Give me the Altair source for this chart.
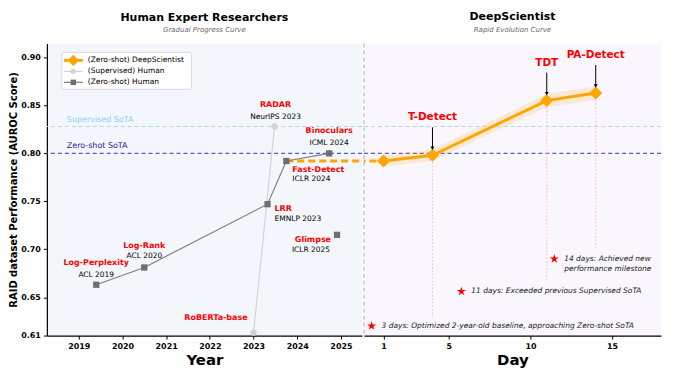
import altair as alt
import pandas as pd

FONT = "DejaVu Sans"

# ---------------- data ----------------
zs_methods = ["Log-Perplexity", "Log-Rank", "LRR", "Fast-Detect", "Binoculars"]
zs_venues = ["ACL 2019", "ACL 2020", "EMNLP 2023", "ICLR 2024", "ICML 2024"]
zs_years = [2019.4, 2020.5, 2023.32, 2023.75, 2024.73]
zs_auc = [0.663, 0.681, 0.747, 0.792, 0.800]

glimpse_name = "Glimpse"
glimpse_venue = "ICLR 2025"
glimpse_year = 2024.91
glimpse_auc = 0.715

sup_methods = ["RoBERTa-base", "RADAR"]
sup_venues = ["", "NeurIPS 2023"]
sup_years = [2023.0, 2023.48]
sup_auc = [0.613, 0.828]

ds_labels = ["", "T-Detect", "TDT", "PA-Detect"]
ds_days = [1, 4, 11, 14]
ds_auc = [0.792, 0.798, 0.855, 0.863]
ds_low = [0.786, 0.792, 0.848, 0.856]
ds_high = [0.798, 0.804, 0.862, 0.870]

sota_supervised = 0.828
sota_zeroshot = 0.800

milestone_days = [0.27, 5.77, 11.46]
milestone_auc = [0.620, 0.656, 0.690]
milestone_text = [
    "3 days: Optimized 2-year-old baseline, approaching Zero-shot SoTA",
    "11 days: Exceeded previous Supervised SoTA",
    "14 days: Achieved new\nperformance milestone",
]

drop_days = [4, 11, 14]
drop_top = [0.798, 0.855, 0.863]
drop_bottom = [0.630, 0.665, 0.700]

year_ticks = [2019, 2020, 2021, 2022, 2023, 2024, 2025]
day_ticks = [1, 5, 10, 15]
auc_ticks = [0.61, 0.65, 0.70, 0.75, 0.80, 0.85, 0.90]

legend_labels = ["(Zero-shot) DeepScientist", "(Supervised) Human", "(Zero-shot) Human"]

# ---------------- styling ----------------
ORANGE = "#ffa500"
RED = "#ff0000"
W_LEFT, W_RIGHT, H = 316, 298, 293
Y_DOMAIN = [0.61, 0.9146]
YEAR_DOMAIN = [2018.27, 2025.48]
DAY_DOMAIN = [-0.2, 18.0]

STAR = ("M0,-1L0.225,-0.309L0.951,-0.309L0.363,0.118L0.588,0.809L0,0.382"
        "L-0.588,0.809L-0.363,0.118L-0.951,-0.309L-0.225,-0.309Z")

yscale = alt.Scale(domain=Y_DOMAIN, nice=False, zero=False)
xs_year = alt.Scale(domain=YEAR_DOMAIN, nice=False, zero=False)
xs_day = alt.Scale(domain=DAY_DOMAIN, nice=False, zero=False)

YA = alt.Axis(title="RAID dataset Performance (AUROC Score)", values=auc_ticks, format=".2f",
              grid=False, titleFontSize=10, titlePadding=2, labelPadding=3)
XA_YEAR = alt.Axis(title="Year", values=year_ticks, format="d", grid=False,
                   titleFontSize=15, titlePadding=3, labelPadding=3)
XA_DAY = alt.Axis(title="Day", values=day_ticks, format="d", grid=False,
                  titleFontSize=15, titlePadding=3, labelPadding=3)


def enc(chart, xscale, xaxis, yaxis, x="x", y="y"):
    return chart.encode(x=alt.X(f"{x}:Q", scale=xscale, axis=xaxis),
                        y=alt.Y(f"{y}:Q", scale=yscale, axis=yaxis))


def text_at(x, y, text, xscale, xaxis, yaxis, dx=0, dy=0, align="center", color=RED,
            size=8, weight="bold", style="normal"):
    df = pd.DataFrame({"x": [x], "y": [y], "t": [text]})
    m = alt.Chart(df).mark_text(dx=dx, dy=dy, align=align, baseline="middle", color=color,
                                fontSize=size, fontWeight=weight, fontStyle=style, font=FONT,
                                lineBreak="\n", lineHeight=10)
    return enc(m, xscale, xaxis, yaxis).encode(text="t:N")


def hline(value, color, dash, yaxis, width=1.2):
    return alt.Chart(pd.DataFrame({"y": [value]})).mark_rule(
        color=color, strokeDash=dash, strokeWidth=width
    ).encode(y=alt.Y("y:Q", scale=yscale, axis=yaxis))


one = pd.DataFrame({"a": [0]})

# ---------------- left panel ----------------
zs_df = pd.DataFrame({"x": zs_years, "y": zs_auc})
sup_df = pd.DataFrame({"x": sup_years, "y": sup_auc})
gl_df = pd.DataFrame({"x": [glimpse_year], "y": [glimpse_auc]})
bridge_left = pd.DataFrame({"x": [zs_years[3], YEAR_DOMAIN[1] + 1], "y": [zs_auc[3], ds_auc[0]]})

L = lambda c: enc(c, xs_year, XA_YEAR, YA)
LT = lambda *a, **k: text_at(*a, xs_year, XA_YEAR, YA, **k)

left_layers = [
    hline(sota_supervised, "#add8e6", [4, 3], YA),
    hline(sota_zeroshot, "#5a5acc", [4, 3], YA),
    alt.Chart(one).mark_text(align="left", baseline="middle", fontSize=8, font=FONT,
                             color="#8ccfec", dy=-7).encode(
        x=alt.value(20), y=alt.Y("v:Q", scale=yscale, axis=YA), text=alt.value("Supervised SoTA")
    ).transform_calculate(v=str(sota_supervised)),
    alt.Chart(one).mark_text(align="left", baseline="middle", fontSize=8, font=FONT,
                             color="#23238c", dy=-7).encode(
        x=alt.value(20), y=alt.Y("v:Q", scale=yscale, axis=YA), text=alt.value("Zero-shot SoTA")
    ).transform_calculate(v=str(sota_zeroshot)),
    L(alt.Chart(bridge_left).mark_line(color=ORANGE, strokeWidth=3, strokeDash=[7, 4], clip=True)),
    L(alt.Chart(sup_df).mark_line(color="#d3d3d3", strokeWidth=1.2)),
    L(alt.Chart(sup_df).mark_point(shape="circle", filled=True, size=40, color="#d3d3d3", opacity=1)),
    L(alt.Chart(zs_df).mark_line(color="#808080", strokeWidth=1.2)),
    L(alt.Chart(zs_df).mark_point(shape="square", filled=True, size=40, color="#6f6f6f", opacity=1)),
    L(alt.Chart(gl_df).mark_point(shape="square", filled=True, size=40, color="#6f6f6f", opacity=1)),
    # labels
    LT(zs_years[0], zs_auc[0], zs_methods[0], dy=-22),
    LT(zs_years[0], zs_auc[0], zs_venues[0], dy=-10, color="black", weight="normal", size=7.5),
    LT(zs_years[1], zs_auc[1], zs_methods[1], dy=-22),
    LT(zs_years[1], zs_auc[1], zs_venues[1], dy=-11, color="black", weight="normal", size=7.5),
    LT(zs_years[2], zs_auc[2], zs_methods[2], dx=7, dy=5, align="left"),
    LT(zs_years[2], zs_auc[2], zs_venues[2], dx=7, dy=15, align="left", color="black", weight="normal", size=7.5),
    LT(zs_years[3], zs_auc[3], zs_methods[3], dx=6, dy=9, align="left"),
    LT(zs_years[3], zs_auc[3], zs_venues[3], dx=6, dy=18, align="left", color="black", weight="normal", size=7.5),
    LT(zs_years[4], zs_auc[4], zs_methods[4], dy=-22),
    LT(zs_years[4], zs_auc[4], zs_venues[4], dy=-10, color="black", weight="normal", size=7.5),
    LT(glimpse_year, glimpse_auc, glimpse_name, dx=-6, dy=5, align="right"),
    LT(glimpse_year, glimpse_auc, glimpse_venue, dx=-7, dy=15, align="right", color="black", weight="normal", size=7.5),
    LT(sup_years[0], sup_auc[0], sup_methods[0], dx=-6, dy=-15, align="right"),
    LT(sup_years[1], sup_auc[1], sup_methods[1], dx=1, dy=-22),
    LT(sup_years[1], sup_auc[1], sup_venues[1], dx=1, dy=-10, color="black", weight="normal", size=7.5),
    # legend box
    alt.Chart(one).mark_rect(fill="white", stroke="#d0d0d0", strokeWidth=0.8, cornerRadius=2).encode(
        x=alt.value(15), x2=alt.value(145), y=alt.value(9), y2=alt.value(46)),
]

legend_rows = [17, 28, 39]
legend_style = [
    (ORANGE, 3, "diamond", 130),
    ("#d3d3d3", 1.2, "circle", 30),
    ("#6f6f6f", 1.2, "square", 30),
]
for lab, yy, (col, sw, shp, sz) in zip(legend_labels, legend_rows, legend_style):
    lcol = "#808080" if shp == "square" else col
    left_layers += [
        alt.Chart(one).mark_rule(color=lcol, strokeWidth=sw).encode(
            x=alt.value(17), x2=alt.value(36), y=alt.value(yy)),
        alt.Chart(one).mark_point(shape=shp, filled=True, size=sz, color=col, opacity=1).encode(
            x=alt.value(26.5), y=alt.value(yy)),
        alt.Chart(one).mark_text(align="left", baseline="middle", fontSize=7.5, font=FONT,
                                 color="black").encode(
            x=alt.value(41), y=alt.value(yy), text=alt.value(lab)),
    ]

left = alt.layer(*left_layers).properties(
    width=W_LEFT, height=H,
    view=alt.ViewBackground(fill="#f3f7fc", stroke=None),
    title=alt.TitleParams("Human Expert Researchers", subtitle="Gradual Progress Curve",
                          fontSize=11, fontWeight="bold", font=FONT, subtitleFontSize=7,
                          subtitleFontStyle="italic", subtitleColor="#666666", subtitleFont=FONT,
                          subtitlePadding=4, anchor="middle", offset=10),
)

# ---------------- right panel ----------------
ds_df = pd.DataFrame({"x": ds_days, "y": ds_auc, "lo": ds_low, "hi": ds_high, "t": ds_labels})
ds_lab = ds_df[ds_df["t"] != ""]
drop_df = pd.DataFrame({"x": drop_days, "y": drop_top, "y2": drop_bottom})
ms_df = pd.DataFrame({"x": milestone_days, "y": milestone_auc, "t": milestone_text})
bridge_right = pd.DataFrame({"x": [DAY_DOMAIN[0] - 1, ds_days[0]], "y": [zs_auc[3], ds_auc[0]]})

R = lambda c: enc(c, xs_day, XA_DAY, None)

right_layers = [
    hline(sota_supervised, "#add8e6", [4, 3], None),
    hline(sota_zeroshot, "#5a5acc", [4, 3], None),
    alt.Chart(one).mark_rule(color="#bbbbbb", strokeDash=[4, 3], strokeWidth=1.2).encode(
        x=alt.value(0), y=alt.value(0), y2=alt.value(H)),
    R(alt.Chart(drop_df).mark_rule(color="#ffb6c1", strokeDash=[1.5, 2], strokeWidth=1)).encode(
        y2=alt.Y2("y2:Q")),
    R(alt.Chart(ds_df).mark_area(color=ORANGE, opacity=0.16)).encode(
        y=alt.Y("lo:Q", scale=yscale, axis=None), y2=alt.Y2("hi:Q")),
    R(alt.Chart(bridge_right).mark_line(color=ORANGE, strokeWidth=3, strokeDash=[7, 4], clip=True)),
    R(alt.Chart(ds_df).mark_line(color=ORANGE, strokeWidth=3)),
    R(alt.Chart(ds_df).mark_point(shape="diamond", filled=True, size=170, color=ORANGE, opacity=1)),
    R(alt.Chart(ds_lab).mark_rule(color="black", strokeWidth=1, yOffset=-28, y2Offset=-7)).encode(
        y2=alt.Y2("y:Q")),
    R(alt.Chart(ds_lab).mark_point(shape="triangle-down", filled=True, size=16, color="black",
                                   opacity=1, yOffset=-7)),
    R(alt.Chart(ds_lab).mark_text(dy=-38, align="center", baseline="middle", color=RED,
                                  fontSize=10.5, fontWeight="bold", font=FONT)).encode(text="t:N"),
    R(alt.Chart(ms_df).mark_point(shape=STAR, filled=True, size=90, color=RED, opacity=1)),
    R(alt.Chart(ms_df).mark_text(dx=10, align="left", baseline="middle", color="#222222",
                                 fontSize=7.5, fontStyle="italic", font=FONT, lineBreak="\n",
                                 lineHeight=10.5)).encode(text="t:N"),
]

right = alt.layer(*right_layers).properties(
    width=W_RIGHT, height=H,
    view=alt.ViewBackground(fill="#f9f6fd", stroke=None),
    title=alt.TitleParams("DeepScientist", subtitle="Rapid Evolution Curve",
                          fontSize=11, fontWeight="bold", font=FONT, subtitleFontSize=7,
                          subtitleFontStyle="italic", subtitleColor="#666666", subtitleFont=FONT,
                          subtitlePadding=4, anchor="middle", offset=10),
)

chart = alt.hconcat(left, right, spacing=0).properties(
    padding={"left": 0, "top": 2, "right": 5, "bottom": 5}
).configure_view(stroke=None).configure_axis(
    labelFont=FONT, titleFont=FONT, labelFontSize=8, labelFontWeight="bold", labelColor="black",
    titleFontWeight="bold", titleColor="black", domainColor="black", tickColor="black",
    domainWidth=1.2, tickWidth=1, tickSize=3.5,
).configure_text(font=FONT)

chart.save("out.html", embed_options={"renderer": "svg", "actions": False})
